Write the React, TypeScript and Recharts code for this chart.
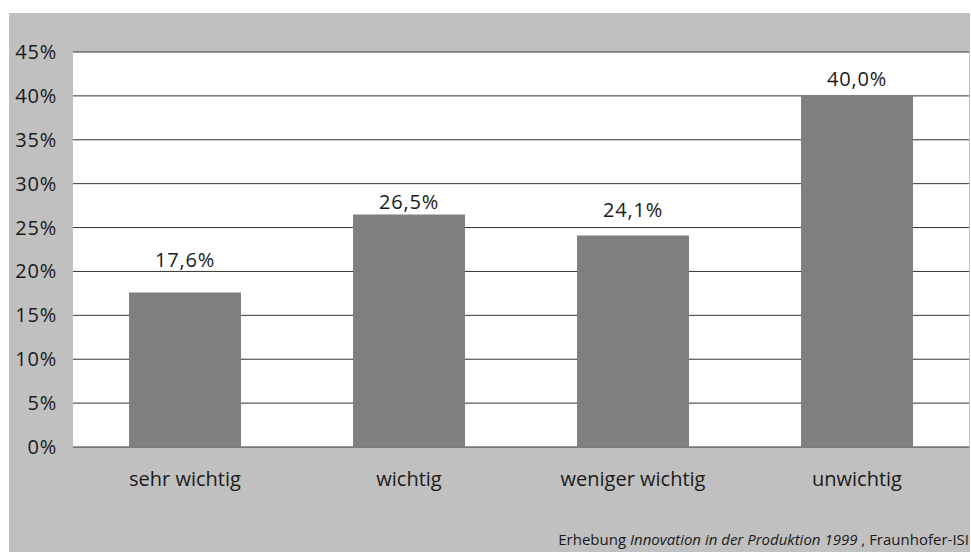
import { BarChart, Bar, XAxis, YAxis, CartesianGrid, LabelList } from 'recharts';

const categories = ['sehr wichtig', 'wichtig', 'weniger wichtig', 'unwichtig'];
const shares = [17.6, 26.5, 24.1, 40.0];
const yTicks = [0, 5, 10, 15, 20, 25, 30, 35, 40, 45];

const data = categories.map((name, i) => ({ name, value: shares[i] }));

// the value labels in the original sit at uneven heights above the bars
const labelLift = [26, 5, 18, 10];

const FONT = '"Open Sans", sans-serif';
const INK = '#1a1a1a';

const YTick = ({ x, y, payload }: any) => (
  <text x={x} y={y} dy={7} textAnchor="end" fontSize={20} letterSpacing={0.8} fill={INK} fontFamily={FONT}>
    {payload.value}%
  </text>
);

const XTick = ({ x, y, payload }: any) => (
  <text x={x} y={y} dy={31} textAnchor="middle" fontSize={20} fill={INK} fontFamily={FONT}>
    {payload.value}
  </text>
);

const ValueLabel = ({ x, y, width, value, index }: any) => (
  <text
    x={x + width / 2}
    y={y - labelLift[index]}
    textAnchor="middle"
    fontSize={20}
    letterSpacing={0.8}
    fill={INK}
    fontFamily={FONT}
  >
    {Number(value).toFixed(1).replace('.', ',')}%
  </text>
);

export default function App() {
  return (
    <div style={{ position: 'fixed', left: 0, top: 0, width: 971, height: 552, background: '#fff', overflow: 'hidden' }}>
      <div style={{ position: 'absolute', left: 9, top: 13, width: 961, height: 539, background: '#c0c0c0' }}>
        <BarChart
          width={961}
          height={539}
          data={data}
          margin={{ top: 39, right: 1, left: 0, bottom: 0 }}
          barCategoryGap="25%"
        >
          <CartesianGrid vertical={false} fill="#fff" stroke="#333" strokeWidth={1} horizontalValues={yTicks} />
          <YAxis
            domain={[0, 45]}
            ticks={yTicks}
            width={64}
            axisLine={false}
            tickLine={false}
            tickSize={0}
            tickMargin={16}
            tick={<YTick />}
            interval={0}
          />
          <XAxis dataKey="name" height={105} axisLine={false} tickLine={false} tick={<XTick />} interval={0} />
          <Bar dataKey="value" fill="#808080" isAnimationActive={false}>
            <LabelList dataKey="value" content={<ValueLabel />} />
          </Bar>
        </BarChart>
        <div
          style={{
            position: 'absolute',
            right: 1,
            bottom: 3,
            fontFamily: FONT,
            fontSize: 15,
            color: INK,
            whiteSpace: 'nowrap',
          }}
        >
          Erhebung <i>Innovation in der Produktion 1999</i> , Fraunhofer-ISI
        </div>
      </div>
    </div>
  );
}
